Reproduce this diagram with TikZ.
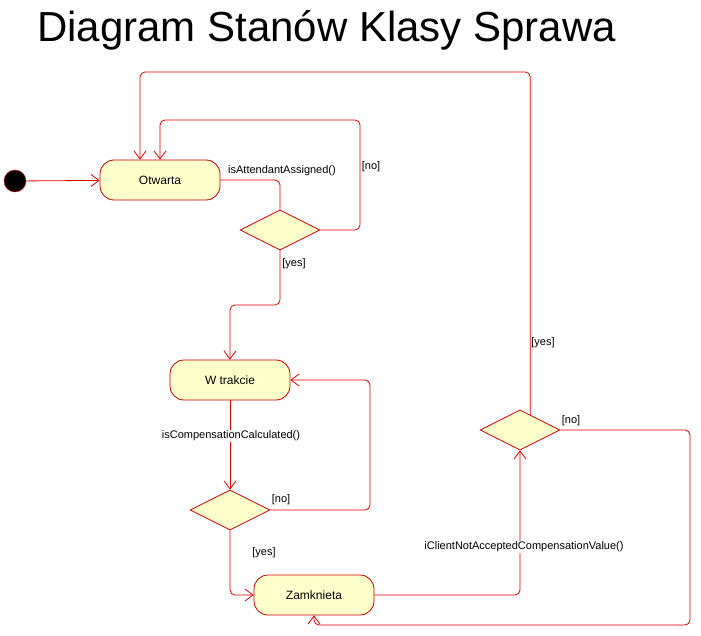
\documentclass[tikz,border=0pt]{standalone}
\usepackage{fontspec}
\setmainfont{Liberation Sans}
\usetikzlibrary{shapes.geometric}
\usetikzlibrary{positioning}
\usetikzlibrary{arrows.meta}
\definecolor{linered}{RGB}{222,0,0}
\definecolor{borderred}{RGB}{195,0,0}
\definecolor{statefill}{RGB}{255,255,204}
\tikzset{
    state/.style = {rectangle, rounded corners=14pt, draw=borderred, line width=0.8pt, fill=statefill, minimum width=120pt, minimum height=40pt, font=\fontsize{12}{14}\selectfont},
    choice/.style = {diamond, aspect=2, draw=borderred, line width=0.8pt, fill=statefill, minimum width=80pt, minimum height=40pt, inner sep=0pt},
    startdot/.style = {circle, draw=borderred, fill=black, minimum size=22pt, inner sep=0pt},
    edgen/.style = {-{Straight Barb[length=8pt,width=12pt]}, draw=linered, line width=0.8pt, rounded corners=5pt},
    edgep/.style = {draw=linered, line width=0.8pt, rounded corners=5pt}, % plain
    guard/.style = {font=\fontsize{11}{13}\selectfont, inner sep=1pt},
    guardw/.style = {guard, fill=white} % over a line
}

\begin{document}
\begin{tikzpicture}[x=1pt, y=-1pt]
  \useasboundingbox (0,0) rectangle (701,636);
  \node[anchor=base west, inner sep=0pt, font=\fontsize{42}{50}\selectfont] (title) at (37,42) {Diagram Stanów Klasy Sprawa};

  \node[startdot] (init) at (15,181) {};
  \node[state] (otw) at (160,180) {Otwarta};
  \node[choice] (d1) at (280,230) {};
  \node[state] (wt) at (230,380) {W trakcie};
  \node[choice] (d2) at (230,510) {};
  \node[state] (zam) at (314,595) {Zamknieta};
  \node[choice] (d3) at (520,430) {};

  \coordinate (c1) at (360,120);
  \coordinate (c2) at (140,72);
  \coordinate (c3) at (280,305);
  \coordinate (c4) at (370,380);
  \coordinate (c5) at (690,625);

  \draw[edgen] (init) -- (otw);
  \draw[edgep] (otw.east) -| (d1.north);
  \draw[edgen] (d1.east) -| (c1) -| (otw.north);
  \draw[edgen] (d3.56) |- (c2) -- (c2 |- otw.north);
  \draw[edgen] (d1.south) -- (c3) -| (wt.north);
  \draw[edgen] (wt.south) -- (d2.north);
  \draw[edgen] (d2.east) -| (c4) -- (wt.east);
  \draw[edgen] (d2.south) |- (zam.west);
  \draw[edgen] (zam.east) -| (d3.south);
  \draw[edgen] (d3.east) -| (c5) -| (zam.south);

  \node[guard] (l1) at (282,171) {isAttendantAssigned()};
  \node[guard] (l2) at (371,167) {[no]};
  \node[guard] (l3) at (294,264) {[yes]};
  \node[guardw] (l4) at (231,436) {isCompensationCalculated()};
  \node[guard] (l5) at (281,500) {[no]};
  \node[guard] (l6) at (264,553) {[yes]};
  \node[guardw] (l7) at (524,547) {iClientNotAcceptedCompensationValue()};
  \node[guard] (l8) at (571,421) {[no]};
  \node[guard] (l9) at (543,343) {[yes]};
\end{tikzpicture}
\end{document}
